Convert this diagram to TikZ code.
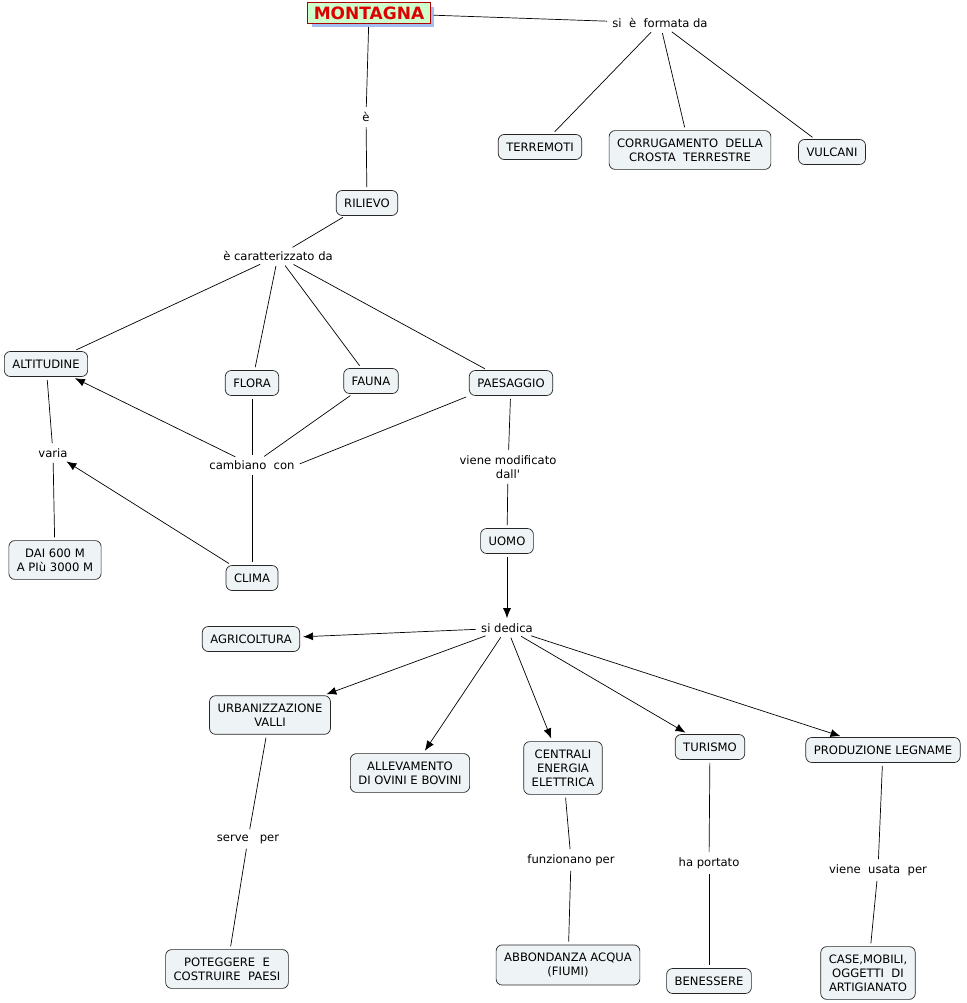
\documentclass[tikz,border=0pt]{standalone}
\usepackage{fontspec}
\setmainfont{DejaVu Sans}
\usepackage{xcolor}
\usetikzlibrary{arrows.meta,shadows}

\definecolor{boxfill}{RGB}{238,243,245}
\definecolor{titlefill}{RGB}{204,255,204}
\definecolor{titlered}{RGB}{220,0,0}
\definecolor{shadowblue}{RGB}{160,190,240}

\begin{document}
\begin{tikzpicture}[x=1pt, y=-1pt,
    box/.style={draw=black!85, line width=0.7pt, fill=boxfill, rounded corners=6pt,
        inner xsep=8pt, inner ysep=8pt, minimum height=25pt, align=center,
        font=\fontsize{11.6}{14}\selectfont},
    link/.style={inner sep=2pt, align=center, font=\fontsize{11.6}{14}\selectfont},
    title/.style={draw=titlered!80!black, line width=0.8pt, fill=titlefill, inner xsep=6pt, inner ysep=4pt,
        text=titlered, font=\fontsize{17}{20}\bfseries\selectfont,
        drop shadow={shadow xshift=4pt, shadow yshift=-4pt, fill=shadowblue, opacity=1}},
    every path/.style={line width=0.7pt, shorten <=3pt, shorten >=3pt},
    arr/.style={-{Latex[length=10pt, width=8pt]}}]
    \useasboundingbox (0,0) rectangle (966,1003);

    \node[title] (MON) at (369,13) {MONTAGNA};
    \node[link] (FOR) at (660,23) {si\ \ è\ \ formata da};
    \node[link] (E) at (366,117) {è};
    \node[box] (RIL) at (367,203) {RILIEVO};
    \node[box] (TER) at (540,147) {TERREMOTI};
    \node[box] (COR) at (690,150) {CORRUGAMENTO\ \ DELLA\\CROSTA\ \ TERRESTRE};
    \node[box] (VUL) at (832,152) {VULCANI};

    \node[link] (CAR) at (278,256) {è caratterizzato da};
    \node[box] (ALT) at (46,364) {ALTITUDINE};
    \node[box] (FLO) at (252,383) {FLORA};
    \node[box] (FAU) at (371,381) {FAUNA};
    \node[box] (PAE) at (511,383) {PAESAGGIO};
    \node[link] (VAR) at (53,453) {varia};
    \node[link] (CAM) at (252,465) {cambiano\ \ con};
    \node[link] (MOD) at (508,467) {viene modificato\\dall\textquotesingle};
    \node[box] (DAI) at (55,560) {DAI 600 M\\A PIù 3000 M};
    \node[box] (CLI) at (252,578) {CLIMA};
    \node[box] (UOM) at (507,541) {UOMO};

    \node[link] (DED) at (507,628) {si dedica};
    \node[box] (AGR) at (251,639) {AGRICOLTURA};
    \node[box] (URB) at (270,715) {URBANIZZAZIONE\\VALLI};
    \node[box] (ALL) at (410,773) {ALLEVAMENTO\\DI OVINI E BOVINI};
    \node[box] (CEN) at (563,768) {CENTRALI\\ENERGIA\\ELETTRICA};
    \node[box] (TUR) at (710,747) {TURISMO};
    \node[box] (PRO) at (883,750) {PRODUZIONE LEGNAME};

    \node[link] (SER) at (248,839) {serve\ \ \ per};
    \node[link] (FUN) at (571,860) {funzionano per};
    \node[link] (POR) at (709,863) {ha portato};
    \node[link] (USA) at (878,870) {viene\ \ usata\ \ per};
    \node[box] (POT) at (227,969) {POTEGGERE\ \ E\\COSTRUIRE\ \ PAESI};
    \node[box] (ABB) at (568,965) {ABBONDANZA ACQUA\\(FIUMI)};
    \node[box] (BEN) at (709,981) {BENESSERE};
    \node[box] (CAS) at (868,973) {CASE,MOBILI,\\OGGETTI\ \ DI\\ARTIGIANATO};

    \draw (MON) -- (FOR);
    \draw (FOR) -- (TER);
    \draw (FOR) -- (COR);
    \draw (FOR) -- (VUL);
    \draw (MON) -- (E);
    \draw (E) -- (RIL);
    \draw (RIL) -- (CAR);
    \draw (CAR) -- (ALT);
    \draw (CAR) -- (FLO);
    \draw (CAR) -- (FAU);
    \draw (CAR) -- (PAE);
    \draw (ALT) -- (VAR);
    \draw (VAR) -- (DAI);
    \draw (FLO) -- (CAM);
    \draw (FAU) -- (CAM);
    \draw (PAE.south west) -- (CAM.east);
    \draw (CAM) -- (CLI);
    \draw[arr] (CAM) -- (ALT);
    \draw[arr] (CLI) -- (VAR);
    \draw (PAE) -- (MOD);
    \draw (MOD) -- (UOM);
    \draw[arr] (UOM) -- (DED);
    \draw[arr] (DED) -- (AGR);
    \draw[arr] (DED) -- (URB);
    \draw[arr] (DED) -- (ALL);
    \draw[arr] (DED) -- (CEN);
    \draw[arr] (DED) -- (TUR);
    \draw[arr] (DED) -- (PRO);
    \draw (URB) -- (SER);
    \draw (SER) -- (POT);
    \draw (CEN) -- (FUN);
    \draw (FUN) -- (ABB);
    \draw (TUR) -- (POR);
    \draw (POR) -- (BEN);
    \draw (PRO) -- (USA);
    \draw (USA) -- (CAS);
\end{tikzpicture}
\end{document}
